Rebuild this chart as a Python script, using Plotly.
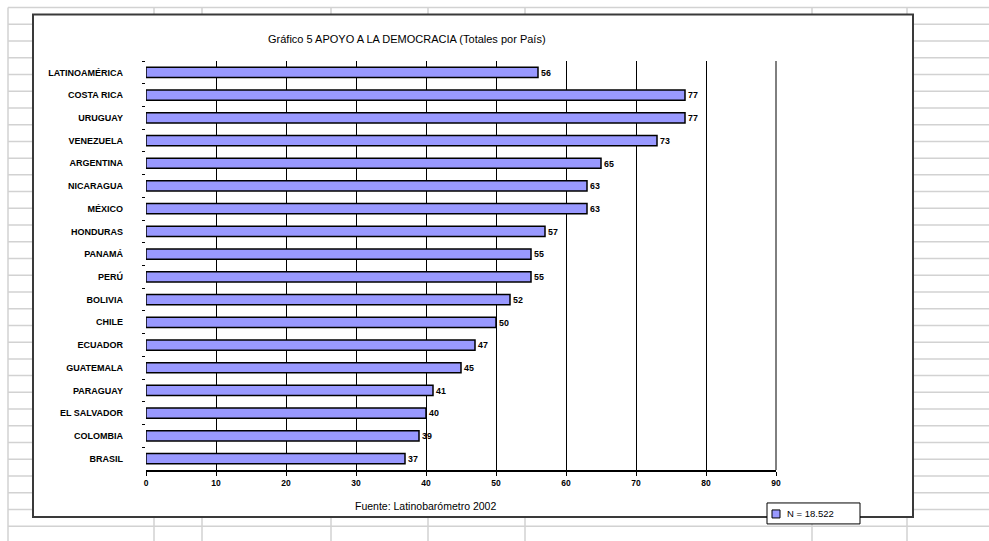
import plotly.graph_objects as go

# Support for democracy by country, Latinobarómetro 2002
countries = [
    "LATINOAMÉRICA", "COSTA RICA", "URUGUAY", "VENEZUELA", "ARGENTINA",
    "NICARAGUA", "MÉXICO", "HONDURAS", "PANAMÁ", "PERÚ", "BOLIVIA",
    "CHILE", "ECUADOR", "GUATEMALA", "PARAGUAY", "EL SALVADOR",
    "COLOMBIA", "BRASIL",
]
support = [56, 77, 77, 73, 65, 63, 63, 57, 55, 55, 52, 50, 47, 45, 41, 40, 39, 37]
x_ticks = [0, 10, 20, 30, 40, 50, 60, 70, 80, 90]
sample_label = "N = 18.522"
title_text = "Gráfico 5 APOYO A LA DEMOCRACIA (Totales por País)"
source_text = "Fuente: Latinobarómetro 2002"

W, H = 989, 541
L, R, T, B = 146, 776, 60.5, 470  # plot area in pixels

BAR = "#9999FF"
FONT = "Liberation Sans, Arial, sans-serif"


def px(x):
    return (x - L) / (R - L)


def py(y):
    return (B - y) / (B - T)


fig = go.Figure()
fig.add_trace(go.Bar(
    y=countries, x=support, orientation="h",
    marker=dict(color=BAR, line=dict(color="black", width=1.5)),
    width=0.45,
    text=[str(v) for v in support], textposition="outside",
    textfont=dict(family=FONT, size=9.5, color="black", weight="bold"),
    cliponaxis=False, showlegend=False,
))

shapes = []
# worksheet cell grid behind the chart object
grid = dict(color="#d2d2d2", width=1.5)
row = 7.0
while row < H:
    shapes.append(dict(type="line", xref="paper", yref="paper", layer="below",
                       x0=px(8), x1=px(W), y0=py(row), y1=py(row), line=grid))
    row += 16.75
for cx in [8, 154, 202, 331, 428, 525, 812, 907]:
    shapes.append(dict(type="line", xref="paper", yref="paper", layer="below",
                       x0=px(cx), x1=px(cx), y0=py(7), y1=py(H), line=grid))
# chart object frame
shapes.append(dict(type="rect", xref="paper", yref="paper", layer="below",
                   x0=px(33), x1=px(913), y0=py(14), y1=py(517),
                   fillcolor="white", line=dict(color="#3a3a3a", width=2)))
# major gridline at the right end of the value axis (paper x = 1 is the axis max)
shapes.append(dict(type="line", xref="paper", yref="paper", layer="above",
                   x0=1, x1=1, y0=0, y1=1,
                   line=dict(color="black", width=1)))
# legend box
shapes.append(dict(type="rect", xref="paper", yref="paper",
                   x0=px(767), x1=px(860), y0=py(503), y1=py(524),
                   fillcolor="white", line=dict(color="black", width=1)))
shapes.append(dict(type="rect", xref="paper", yref="paper",
                   x0=px(772), x1=px(780), y0=py(510), y1=py(518),
                   fillcolor=BAR, line=dict(color="black", width=1)))

annotations = [
    dict(text=title_text, xref="paper", yref="paper", x=px(407), y=py(38),
         showarrow=False, xanchor="center", yanchor="middle",
         font=dict(family=FONT, size=11, color="black")),
    dict(text=source_text, xref="paper", yref="paper", x=px(425), y=py(506),
         showarrow=False, xanchor="center", yanchor="middle",
         font=dict(family=FONT, size=10.5, color="black")),
    dict(text=sample_label, xref="paper", yref="paper", x=px(785), y=py(513.5),
         showarrow=False, xanchor="left", yanchor="middle",
         font=dict(family=FONT, size=9.5, color="black")),
]

fig.update_layout(
    width=W, height=H,
    margin=dict(l=L, r=W - R, t=T, b=H - B, pad=0),
    paper_bgcolor="white", plot_bgcolor="rgba(0,0,0,0)",
    shapes=shapes, annotations=annotations,
    font=dict(family=FONT, color="black"),
    xaxis=dict(
        range=[0, 90], tickvals=x_ticks, ticktext=[str(v) for v in x_ticks],
        showgrid=True, gridcolor="black", gridwidth=1,
        showline=True, linecolor="black", linewidth=1.5,
        ticks="outside", ticklen=4, tickcolor="black",
        tickfont=dict(family=FONT, size=8.5, color="black", weight="bold"),
        zeroline=False, fixedrange=True,
    ),
    yaxis=dict(
        autorange="reversed", showgrid=False, showline=False, zeroline=False,
        ticks="outside", tickson="boundaries", ticklen=3, tickcolor="black",
        ticklabelstandoff=22,
        tickfont=dict(family=FONT, size=9, color="black", weight="bold"),
        fixedrange=True,
    ),
)

fig.write_html("out.html")
